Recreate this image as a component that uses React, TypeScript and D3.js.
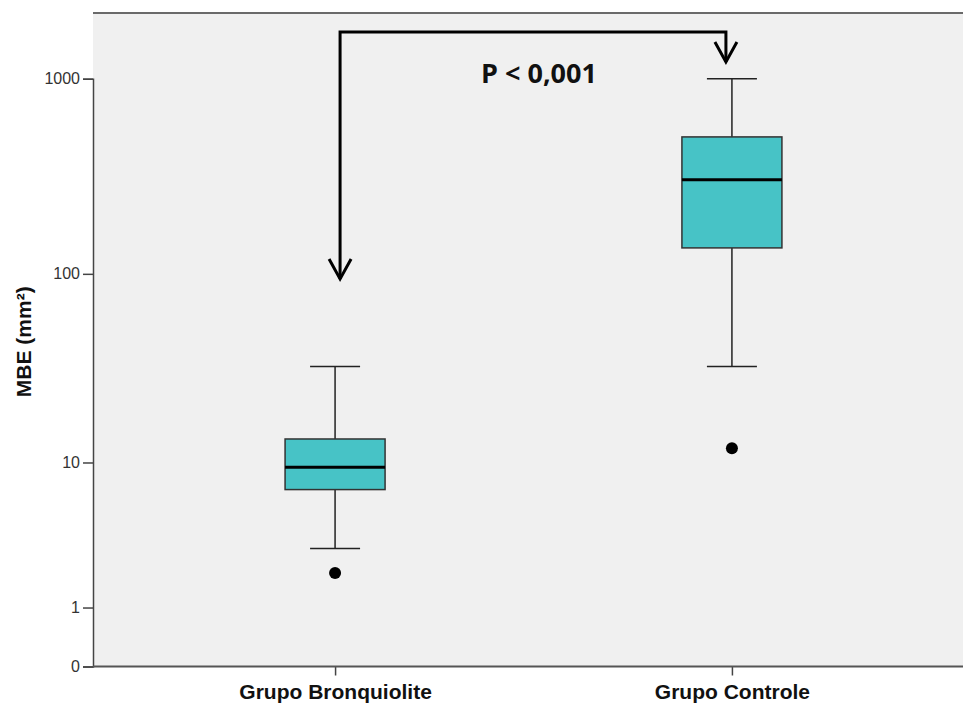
import React, { useEffect, useRef } from 'react';
import * as d3 from 'd3';

// box plot summary values (MBE in mm²)
const groups = ['Grupo Bronquiolite', 'Grupo Controle'];
const whiskerLow = [3, 33];
const q1 = [7, 136];
const median = [9.4, 304];
const q3 = [13.5, 504];
const whiskerHigh = [33, 1000];
const outliers = [[2], [12]];

const yTicks = [0, 1, 10, 100, 1000];
const pLabel = 'P < 0,001';

const W = 963;
const H = 705;
const margin = { top: 13, left: 93, bottom: 666.5, right: 974 };

const App = () => {
  const svgRef = useRef<SVGSVGElement>(null);

  useEffect(() => {
    const svg = d3.select(svgRef.current);
    svg.selectAll('*').remove();

    // SPSS log(x+1) style axis -> symlog with constant 1
    const y = d3.scaleSymlog().constant(1).domain([0, 1000]).range([margin.bottom, 78.7]);
    const x = d3.scalePoint<string>().domain(groups).range([margin.left, margin.right]).padding(0.61);

    const boxW = 100;
    const capW = 50;

    // plot background
    svg.append('rect')
      .attr('x', margin.left)
      .attr('y', margin.top)
      .attr('width', W - margin.left)
      .attr('height', margin.bottom - margin.top)
      .attr('fill', '#f0f0f0');

    // top frame line
    svg.append('line')
      .attr('x1', margin.left).attr('x2', W)
      .attr('y1', margin.top).attr('y2', margin.top)
      .attr('stroke', '#6a6a6a').attr('stroke-width', 2);

    // y axis
    const yAxis = d3.axisLeft(y).tickValues(yTicks).tickSize(10).tickPadding(3).tickFormat(d3.format('d'));
    const gy = svg.append('g').attr('transform', `translate(${margin.left},0)`).call(yAxis);
    gy.select('.domain').attr('stroke', '#444').attr('stroke-width', 1.5);
    gy.selectAll('.tick line').attr('stroke', '#444').attr('stroke-width', 1.5);
    gy.selectAll('.tick text')
      .attr('font-family', 'Liberation Sans, Arial, sans-serif')
      .attr('font-size', 16)
      .attr('fill', '#333');

    // x axis
    const xAxis = d3.axisBottom(x).tickSize(9).tickPadding(9);
    const gx = svg.append('g').attr('transform', `translate(0,${margin.bottom})`).call(xAxis);
    gx.select('.domain').remove();
    gx.append('line')
      .attr('x1', margin.left).attr('x2', W)
      .attr('stroke', '#555').attr('stroke-width', 2);
    gx.selectAll('.tick line').attr('stroke', '#444').attr('stroke-width', 1.5);
    gx.selectAll('.tick text')
      .attr('font-family', 'Liberation Sans, Arial, sans-serif')
      .attr('font-weight', 'bold')
      .attr('font-size', 21)
      .attr('fill', '#111');

    // y axis title
    svg.append('text')
      .attr('transform', `translate(31,${(margin.top + margin.bottom) / 2 + 2}) rotate(-90)`)
      .attr('text-anchor', 'middle')
      .attr('font-family', 'Liberation Sans, Arial, sans-serif')
      .attr('font-weight', 'bold')
      .attr('font-size', 21)
      .attr('fill', '#111')
      .text('MBE (mm²)');

    // boxes
    groups.forEach((g, i) => {
      const cx = x(g) as number;
      const grp = svg.append('g');

      grp.append('line')
        .attr('x1', cx).attr('x2', cx)
        .attr('y1', y(whiskerHigh[i])).attr('y2', y(q3[i]))
        .attr('stroke', '#222').attr('stroke-width', 1.5);
      grp.append('line')
        .attr('x1', cx).attr('x2', cx)
        .attr('y1', y(q1[i])).attr('y2', y(whiskerLow[i]))
        .attr('stroke', '#222').attr('stroke-width', 1.5);
      [whiskerHigh[i], whiskerLow[i]].forEach((v) => {
        grp.append('line')
          .attr('x1', cx - capW / 2).attr('x2', cx + capW / 2)
          .attr('y1', y(v)).attr('y2', y(v))
          .attr('stroke', '#222').attr('stroke-width', 1.5);
      });

      grp.append('rect')
        .attr('x', cx - boxW / 2)
        .attr('y', y(q3[i]))
        .attr('width', boxW)
        .attr('height', y(q1[i]) - y(q3[i]))
        .attr('fill', '#47c3c6')
        .attr('stroke', '#333')
        .attr('stroke-width', 1.5);

      grp.append('line')
        .attr('x1', cx - boxW / 2).attr('x2', cx + boxW / 2)
        .attr('y1', y(median[i])).attr('y2', y(median[i]))
        .attr('stroke', '#000').attr('stroke-width', 3);

      outliers[i].forEach((v) => {
        grp.append('circle')
          .attr('cx', cx).attr('cy', y(v)).attr('r', 6)
          .attr('fill', '#000');
      });
    });

    // significance bracket with arrows
    const xl = (x(groups[0]) as number) + 5;
    const xr = (x(groups[1]) as number) - 6;
    const topY = 32;
    const ann = svg.append('g')
      .attr('fill', 'none')
      .attr('stroke', '#000')
      .attr('stroke-width', 3)
      .attr('stroke-linejoin', 'miter');
    ann.append('path').attr('d', `M${xl},279 L${xl},${topY} L${xr},${topY} L${xr},62`);
    const head = (px: number, py: number) =>
      `M${px - 11},${py - 20} L${px},${py} L${px + 11},${py - 20}`;
    ann.append('path').attr('d', head(xl, 279));
    ann.append('path').attr('d', head(xr, 62));

    svg.append('text')
      .attr('x', 539)
      .attr('y', 83)
      .attr('text-anchor', 'middle')
      .attr('font-family', 'Open Sans, sans-serif')
      .attr('font-weight', 'bold')
      .attr('font-size', 27)
      .attr('fill', '#111')
      .text(pLabel);
  }, []);

  return (
    <div style={{ position: 'absolute', left: 0, top: 0, width: W, height: H, background: '#fff' }}>
      <svg ref={svgRef} width={W} height={H} style={{ display: 'block' }} />
    </div>
  );
};

export default App;
